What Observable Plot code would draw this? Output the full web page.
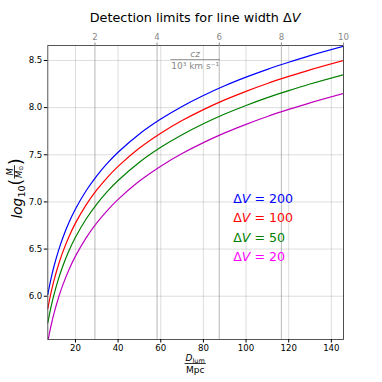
<!DOCTYPE html>
<html><head><meta charset="utf-8">
<script src="https://cdn.jsdelivr.net/npm/d3@7"></script>
<script src="https://cdn.jsdelivr.net/npm/@observablehq/plot@0.6"></script>
<style>body{margin:0;background:#fff;}svg{display:block;}</style>
</head><body><div id="chart"></div>
<script>
// Luminosity distance samples (Mpc)
const dLum = [7.03, 8, 9, 10, 12, 14, 17, 20, 25, 30, 35, 40, 50, 60, 70, 80, 90, 100, 110, 120, 130, 145.7];
// log10(M / Msun) detection limits, one array per line width
const logM200 = [6.017, 6.129, 6.232, 6.323, 6.481, 6.615, 6.784, 6.925, 7.119, 7.277, 7.411, 7.527, 7.721, 7.879, 8.013, 8.129, 8.232, 8.323, 8.406, 8.481, 8.551, 8.650];
const logM100 = [5.867, 5.979, 6.082, 6.173, 6.331, 6.465, 6.634, 6.775, 6.969, 7.127, 7.261, 7.377, 7.571, 7.729, 7.863, 7.979, 8.082, 8.173, 8.256, 8.331, 8.401, 8.500];
const logM50  = [5.717, 5.829, 5.932, 6.023, 6.181, 6.315, 6.484, 6.625, 6.819, 6.977, 7.111, 7.227, 7.421, 7.579, 7.713, 7.829, 7.932, 8.023, 8.106, 8.181, 8.251, 8.350];
const logM20  = [5.517, 5.629, 5.732, 5.823, 5.981, 6.115, 6.284, 6.425, 6.619, 6.777, 6.911, 7.027, 7.221, 7.379, 7.513, 7.629, 7.732, 7.823, 7.906, 7.981, 8.051, 8.150];
const deltaV = [200, 100, 50, 20];
const lineColors = ["#0000ff", "#ff0000", "#008000", "#bf00bf"];
const textColors = ["#0000ff", "#ff0000", "#008000", "#ff00ff"];
const xTicks = [20, 40, 60, 80, 100, 120, 140];
const yTicks = [6.0, 6.5, 7.0, 7.5, 8.0, 8.5];
const czTicks = [2, 4, 6, 8, 10];          // 10^3 km/s
const mpcPerCz = 14.57;                    // Mpc per 10^3 km/s (top axis conversion)

const seriesValues = [logM200, logM100, logM50, logM20];
const series = seriesValues.map((vals, k) => dLum.map((d, i) => ({d, m: vals[i], dv: deltaV[k]})));

const FONT = "DejaVu Sans";
const plot = Plot.plot({
  width: 382, height: 382,
  marginLeft: 47.3, marginRight: 39, marginTop: 45, marginBottom: 43,
  style: {fontFamily: FONT, fontSize: "8.6px", background: "white", color: "black", overflow: "visible"},
  x: {domain: [7.03, 145.7]},
  y: {domain: [5.541, 8.659]},
  marks: [
    Plot.gridY(yTicks, {stroke: "#b0b0b0", strokeOpacity: 0.55, strokeWidth: 0.8}),
    Plot.gridX(xTicks, {stroke: "#b0b0b0", strokeOpacity: 0.55, strokeWidth: 0.8}),
    Plot.gridX(czTicks.map(c => c * mpcPerCz), {stroke: "#909090", strokeOpacity: 0.8, strokeWidth: 0.8}),
    ...series.map((s, k) => Plot.line(s, {x: "d", y: "m", stroke: lineColors[k], strokeWidth: 1.2, curve: "catmull-rom", clip: true})),
    Plot.frame({stroke: "#444", strokeWidth: 0.9}),
    Plot.axisX(xTicks, {anchor: "bottom", tickSize: 3.5, tickPadding: 2, label: null}),
    Plot.axisX(czTicks.map(c => c * mpcPerCz), {anchor: "top", tickSize: 3.5, tickPadding: 2, label: null,
      tickFormat: d => String(Math.round(d / mpcPerCz)), color: "#888", stroke: "#888", fill: "#888"}),
    Plot.axisY(yTicks, {anchor: "left", tickSize: 3.5, tickPadding: 2, label: null, tickFormat: d => d.toFixed(1)})
  ]
});
document.getElementById("chart").appendChild(plot);

const svg = d3.select(plot);
const xs = plot.scale("x"), ys = plot.scale("y");
const cx = (xs.apply(xs.domain[0]) + xs.apply(xs.domain[1])) / 2;

function txt(parent) {
  return parent.append("text").attr("font-family", FONT).attr("text-anchor", "start").attr("fill", "black");
}

// Title
const title = txt(svg).attr("x", cx).attr("y", 21.5).attr("text-anchor", "middle").attr("font-size", 12.8);
title.append("tspan").text("Detection limits for line width Δ");
title.append("tspan").attr("font-style", "italic").text("V");

// Fraction helper
function fraction(g, x, yBar, numBuild, denBuild, fs, color, gap) {
  const num = txt(g).attr("x", x).attr("y", yBar - gap).attr("text-anchor", "middle")
    .attr("font-size", fs).attr("fill", color);
  numBuild(num);
  const den = txt(g).attr("x", x).attr("y", yBar + gap + fs * 0.73).attr("text-anchor", "middle")
    .attr("font-size", fs).attr("fill", color);
  denBuild(den);
  const w = Math.max(num.node().getComputedTextLength(), den.node().getComputedTextLength()) + 2;
  g.append("line").attr("x1", x - w / 2).attr("x2", x + w / 2).attr("y1", yBar).attr("y2", yBar)
    .attr("stroke", color).attr("stroke-width", 0.8);
}

// Top axis label (cz / 10^3 km s^-1)
fraction(svg, cx, 59.5,
  t => t.append("tspan").attr("font-style", "italic").text("cz"),
  t => { t.append("tspan").text("10³ km s⁻¹"); },
  9, "#888", 2.5);

// Bottom axis label (D_lum / Mpc)
fraction(svg, cx, 363.5,
  t => { t.append("tspan").attr("font-style", "italic").text("D");
         t.append("tspan").attr("font-size", 6.5).attr("dy", 1.5).text("lum"); },
  t => t.append("tspan").text("Mpc"),
  9, "black", 2.5);

// Y axis label log10(M / Msun)
const yl = svg.append("g").attr("transform", "translate(17,190) rotate(-90)");
let u = -28.5;
const t1 = txt(yl).attr("x", u).attr("y", 4.5).attr("font-size", 13.5).attr("font-style", "italic").text("log");
u += t1.node().getComputedTextLength() + 0.3;
const t2 = txt(yl).attr("x", u).attr("y", 7.5).attr("font-size", 9.5).text("10");
u += t2.node().getComputedTextLength();
const t3 = txt(yl).attr("x", u).attr("y", 5).attr("font-size", 17).text("(");
u += t3.node().getComputedTextLength() + 0.3;
// fraction M / M_sun
const fn = txt(yl).attr("y", -4.5).attr("text-anchor", "middle").attr("font-size", 8.5).attr("font-style", "italic").text("M");
const fd = txt(yl).attr("y", 4.5).attr("text-anchor", "middle").attr("font-size", 8.5);
fd.append("tspan").attr("font-style", "italic").text("M");
fd.append("tspan").attr("font-size", 6).attr("dy", 1.5).text("⊙");
const fw = Math.max(fn.node().getComputedTextLength(), fd.node().getComputedTextLength()) + 1;
fn.attr("x", u + fw / 2); fd.attr("x", u + fw / 2);
yl.append("line").attr("x1", u).attr("x2", u + fw).attr("y1", -2.5).attr("y2", -2.5).attr("stroke", "black").attr("stroke-width", 0.8);
u += fw + 0.3;
txt(yl).attr("x", u).attr("y", 5).attr("font-size", 17).text(")");

// Legend (placed through the plot scales)
const lx = xs.apply(94.2), ly0 = ys.apply(7.033);
deltaV.forEach((dv, k) => {
  const t = txt(svg).attr("x", lx).attr("y", ly0 + k * 19.3 + 4.6).attr("font-size", 12.6).attr("fill", textColors[k]);
  t.append("tspan").text("Δ");
  t.append("tspan").attr("font-style", "italic").text("V");
  t.append("tspan").text(" = " + dv);
});
</script>
</body></html>
